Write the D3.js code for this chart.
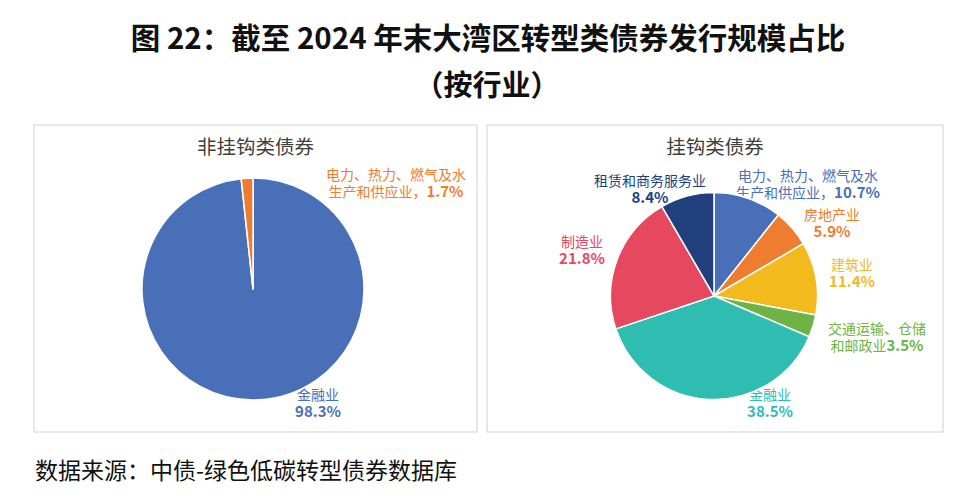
<!DOCTYPE html>
<html><head><meta charset="utf-8">
<script src="https://cdn.jsdelivr.net/npm/d3@7"></script>
<style>body{margin:0;background:#fff}svg{display:block}</style>
</head><body><svg id="c" width="975" height="500"></svg>
<script>
const titleLine1 = "图 22：截至 2024 年末大湾区转型类债券发行规模占比";
const titleLine2 = "（按行业）";
const source = "数据来源：中债-绿色低碳转型债券数据库";

const leftTitle = "非挂钩类债券";
const leftCategories = ["金融业", "电力、热力、燃气及水生产和供应业"];
const leftValues = [98.3, 1.7];
const leftColors = ["#4A6FB9", "#EE7D2F"];

const rightTitle = "挂钩类债券";
const rightCategories = ["电力、热力、燃气及水生产和供应业", "房地产业", "建筑业", "交通运输、仓储和邮政业", "金融业", "制造业", "租赁和商务服务业"];
const rightValues = [10.7, 5.9, 11.4, 3.5, 38.5, 21.8, 8.4];
const rightColors = ["#4A6FB9", "#EE7D2F", "#F2BA1D", "#6DB445", "#2FBDB1", "#E5485F", "#203F7B"];

const svg = d3.select("#c");
const cjk = "'Noto Sans CJK SC', 'Noto Sans', sans-serif";

svg.append("text").attr("x", 488).attr("y", 49).attr("text-anchor", "middle")
  .attr("font-family", cjk).attr("font-weight", "bold").attr("font-size", 29.5).attr("fill", "#111")
  .text(titleLine1);
svg.append("text").attr("x", 487).attr("y", 96).attr("text-anchor", "middle")
  .attr("font-family", cjk).attr("font-weight", "bold").attr("font-size", 29).attr("fill", "#111")
  .text(titleLine2);
svg.append("text").attr("x", 35).attr("y", 479)
  .attr("font-family", cjk).attr("font-size", 23).attr("fill", "#111")
  .text(source);

function panel(x0, y0, w, h, title, cx, cy, r, cats, vals, colors, labels) {
  const g = svg.append("g");
  g.append("rect").attr("x", x0).attr("y", y0).attr("width", w).attr("height", h)
    .attr("fill", "#fff").attr("stroke", "#d9d9d9").attr("stroke-width", 1.2);
  g.append("text").attr("x", (x0 + x0 + w) / 2).attr("y", 154).attr("text-anchor", "middle")
    .attr("font-family", cjk).attr("font-size", 19.5).attr("fill", "#404040").text(title);
  const pie = d3.pie().sort(null).value(d => d)(vals);
  const arc = d3.arc().innerRadius(0).outerRadius(r);
  const lg = g.append("g");
  labels.forEach(l => {
    l.lines.forEach((ln, k) => {
      const t = lg.append("text").attr("text-anchor", "middle")
        .attr("font-family", cjk).attr("fill", colors[l.i])
        .attr("x", l.x).attr("y", l.y + k * l.dy);
      ln.forEach(part => {
        t.append("tspan").attr("font-size", part.b ? 15 : 14)
          .attr("font-weight", part.b ? "bold" : "normal").text(part.t);
      });
    });
  });
  g.append("g").attr("transform", `translate(${cx},${cy})`)
    .selectAll("path").data(pie).join("path")
    .attr("d", arc).attr("fill", (d, i) => colors[i])
    .attr("stroke", "#fff").attr("stroke-width", 1.5).attr("stroke-linejoin", "round");
}

const pct = v => v.toFixed(1) + "%";

panel(34, 125, 443, 307, leftTitle, 253, 289, 111, leftCategories, leftValues, leftColors, [
  {i: 1, x: 396, y: 180, dy: 17, lines: [[{t: "电力、热力、燃气及水"}], [{t: "生产和供应业，"}, {t: pct(leftValues[1]), b: true}]]},
  {i: 0, x: 318, y: 400, dy: 17, lines: [[{t: leftCategories[0]}], [{t: pct(leftValues[0]), b: true}]]}
]);

panel(487, 125, 456, 307, rightTitle, 714, 296, 103.5, rightCategories, rightValues, rightColors, [
  {i: 6, x: 650, y: 186, dy: 17, lines: [[{t: rightCategories[6]}], [{t: pct(rightValues[6]), b: true}]]},
  {i: 0, x: 808, y: 181, dy: 17, lines: [[{t: "电力、热力、燃气及水"}], [{t: "生产和供应业，"}, {t: pct(rightValues[0]), b: true}]]},
  {i: 1, x: 832, y: 220, dy: 17, lines: [[{t: rightCategories[1]}], [{t: pct(rightValues[1]), b: true}]]},
  {i: 2, x: 852, y: 270, dy: 17, lines: [[{t: rightCategories[2]}], [{t: pct(rightValues[2]), b: true}]]},
  {i: 3, x: 877, y: 334, dy: 17, lines: [[{t: "交通运输、仓储"}], [{t: "和邮政业"}, {t: pct(rightValues[3]), b: true}]]},
  {i: 4, x: 770, y: 400, dy: 17, lines: [[{t: rightCategories[4]}], [{t: pct(rightValues[4]), b: true}]]},
  {i: 5, x: 582, y: 247, dy: 17, lines: [[{t: rightCategories[5]}], [{t: pct(rightValues[5]), b: true}]]}
]);
</script></body></html>
